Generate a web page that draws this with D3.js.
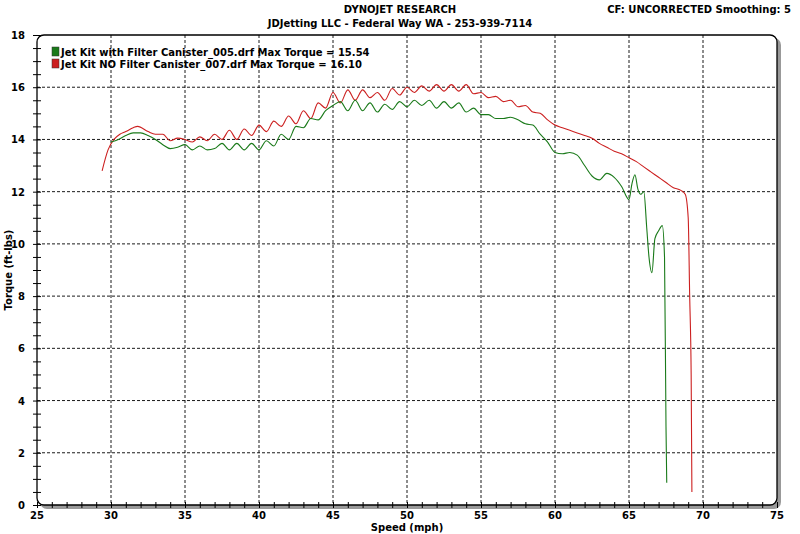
<!DOCTYPE html>
<html><head><meta charset="utf-8">
<script src="https://cdn.jsdelivr.net/npm/d3@7"></script>
<style>body{margin:0;background:#fff}text{font-family:"DejaVu Sans",Verdana,sans-serif;font-weight:bold}</style>
</head><body><svg id="c" width="800" height="534"></svg>
<script>
const title1 = "DYNOJET RESEARCH";
const title2 = "JDJetting LLC  - Federal Way WA - 253-939-7114";
const cfText = "CF: UNCORRECTED  Smoothing: 5";
const xLabel = "Speed (mph)", yLabel = "Torque (ft-lbs)";
const xTicks = [25,30,35,40,45,50,55,60,65,70,75];
const yTicks = [0,2,4,6,8,10,12,14,16,18];
const seriesNames = ["Jet Kit with Filter Canister_005.drf Max Torque = 15.54","Jet Kit NO Filter Canister_007.drf Max Torque = 16.10"];
const seriesColors = ["#1a7a1a","#cc2020"];
const greenX = [30,30.5,31,31.5,32,32.5,33,33.5,34,34.5,35,35.5,36,36.5,37,37.5,38,38.5,39,39.5,40,40.5,41,41.5,42,42.5,43,43.5,44,44.5,45,45.5,46,46.5,47,47.5,48,48.5,49,49.5,50,50.5,51,51.5,52,52.5,53,53.5,54,54.5,55,55.5,56,56.5,57,57.5,58,58.5,59,59.5,60,60.5,61,61.5,62,62.5,63,63.5,64,64.5,65,65.2,65.4,65.6,65.8,66,66.2,66.35,66.55,66.75,67,67.25,67.4,67.5,67.55];
const greenY = [13.9,14.0,14.15,14.25,14.25,14.15,14.0,13.8,13.65,13.7,13.8,13.6,13.75,13.6,13.65,13.85,13.6,13.85,13.6,13.85,13.6,13.95,13.75,14.2,14.0,14.5,14.45,14.8,14.75,15.1,15.3,15.45,15.1,15.5,15.1,15.4,15.05,15.35,15.15,15.45,15.25,15.5,15.3,15.5,15.2,15.45,15.2,15.4,15.05,15.2,14.95,14.95,14.8,14.8,14.85,14.75,14.6,14.55,14.2,13.9,13.5,13.45,13.5,13.4,13.0,12.6,12.45,12.7,12.55,12.2,11.7,12.3,12.65,12.1,11.9,12.0,10.6,9.5,8.9,10.2,10.5,10.7,9.5,3.0,0.85];
const redX = [29.4,29.8,30.2,30.6,31,31.5,31.8,32.5,33,33.5,34,34.5,35,35.5,36,36.5,37,37.5,38,38.5,39,39.5,40,40.5,41,41.5,42,42.5,43,43.5,44,44.5,45,45.5,46,46.5,47,47.5,48,48.5,49,49.5,50,50.5,51,51.5,52,52.5,53,53.5,54,54.5,55,55.5,56,56.5,57,57.5,58,58.5,59,59.5,60,60.5,61,61.5,62,62.5,63,63.5,64,64.5,65,65.5,66,66.5,67,67.5,68,68.5,68.8,69.0,69.1,69.2,69.25];
const redY = [12.8,13.6,14.0,14.2,14.3,14.45,14.5,14.3,14.2,14.2,13.95,14.05,14.0,13.9,14.1,13.95,14.2,14.0,14.35,14.0,14.4,14.15,14.55,14.3,14.7,14.5,14.9,14.6,15.1,14.8,15.4,15.2,15.8,15.4,15.9,15.5,15.9,15.6,15.8,15.5,15.95,15.7,16.0,15.8,16.05,15.85,16.1,15.85,16.1,15.85,16.1,15.75,15.8,15.6,15.65,15.45,15.5,15.25,15.3,15.05,15.0,14.75,14.55,14.45,14.35,14.25,14.15,14.05,13.85,13.7,13.55,13.45,13.3,13.15,12.95,12.75,12.55,12.35,12.15,12.05,11.9,11.0,8.0,5.0,0.5];

const svg = d3.select("#c");
const L=37,R=777,T=35,B=505;
const x = d3.scaleLinear().domain([25,75]).range([L,R]);
const y = d3.scaleLinear().domain([0,18]).range([B,T]);

svg.append("text").attr("x",400).attr("y",13).attr("text-anchor","middle").attr("font-size",10).text(title1);
svg.append("text").attr("x",400).attr("y",27).attr("text-anchor","middle").attr("font-size",10).text(title2);
svg.append("text").attr("x",791).attr("y",13).attr("text-anchor","end").attr("font-size",10).text(cfText);

// shadow
svg.append("rect").attr("x",L+3).attr("y",T+3).attr("width",R-L+1).attr("height",B-T+1).attr("rx",7).attr("fill","#999");
svg.append("rect").attr("x",L).attr("y",T).attr("width",R-L).attr("height",B-T).attr("rx",7).attr("fill","#fff").attr("stroke","#000").attr("stroke-width",1.3);

// grid
const g = svg.append("g").attr("stroke","#000").attr("stroke-dasharray","3,2").attr("stroke-width",0.9);
xTicks.slice(1,-1).forEach(v=>g.append("line").attr("x1",x(v)).attr("x2",x(v)).attr("y1",T).attr("y2",B));
yTicks.slice(1,-1).forEach(v=>g.append("line").attr("y1",y(v)).attr("y2",y(v)).attr("x1",L).attr("x2",R));

// axes
const xa = svg.append("g").attr("transform",`translate(0,${B})`).call(d3.axisBottom(x).tickValues(d3.range(25,76,1)).tickSize(3).tickFormat(""));
xa.select(".domain").remove();
xa.selectAll("line").attr("y1",-3).attr("stroke","#000");
xTicks.forEach(v=>svg.append("text").attr("x",x(v)).attr("y",B+14).attr("text-anchor","middle").attr("font-size",10).text(v));
const ya = svg.append("g").attr("transform",`translate(${L},0)`).call(d3.axisLeft(y).tickValues(d3.range(0,18.01,0.5)).tickSize(4).tickFormat(""));
ya.select(".domain").remove();
ya.selectAll("line").attr("x1",-4).attr("x2",4).attr("stroke","#000");
yTicks.forEach(v=>svg.append("text").attr("x",L-12).attr("y",y(v)+4).attr("text-anchor","end").attr("font-size",10).text(v));

svg.append("text").attr("x",407).attr("y",531).attr("text-anchor","middle").attr("font-size",10).text(xLabel);
svg.append("text").attr("transform",`translate(12,${(T+B)/2}) rotate(-90)`).attr("text-anchor","middle").attr("font-size",10).text(yLabel);

const line = d3.line().x(d=>x(d[0])).y(d=>y(d[1])).curve(d3.curveMonotoneX);
const gData = greenX.map((v,i)=>[v,greenY[i]]);
const rData = redX.map((v,i)=>[v,redY[i]]);
svg.append("path").datum(rData).attr("d",line).attr("fill","none").attr("stroke",seriesColors[1]).attr("stroke-width",1.1);
svg.append("path").datum(gData).attr("d",line).attr("fill","none").attr("stroke",seriesColors[0]).attr("stroke-width",1.1);

seriesNames.forEach((n,i)=>{
  svg.append("rect").attr("x",52).attr("y",47+i*12).attr("width",7).attr("height",9).attr("fill",seriesColors[i]).attr("stroke","#333").attr("stroke-width",0.5);
  svg.append("text").attr("x",61).attr("y",56+i*12).attr("font-size",10).attr("font-family","'DejaVu Sans Condensed','DejaVu Sans'").text(n);
});
</script></body></html>
